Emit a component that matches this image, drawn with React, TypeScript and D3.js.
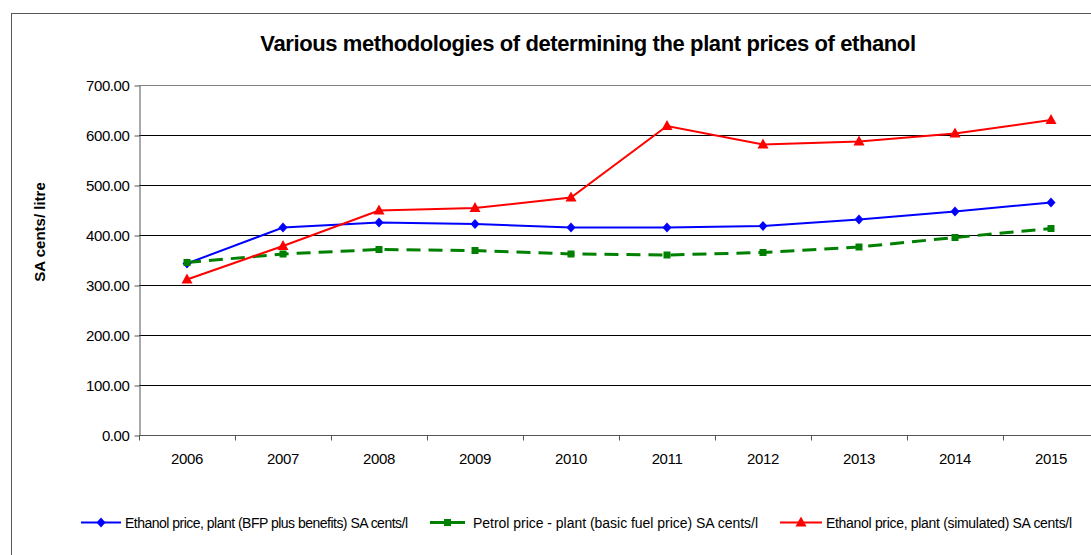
import { useEffect, useRef } from "react";
import * as d3 from "d3";

const YEARS = ["2006", "2007", "2008", "2009", "2010", "2011", "2012", "2013", "2014", "2015"];
const ETHANOL_BFP = [343, 415, 425, 422, 415, 415, 418, 431, 447, 465];
const PETROL_BFP = [345, 362, 371, 369, 362, 360, 365, 376, 395, 413];
const ETHANOL_SIM = [311, 378, 449, 454, 475, 618, 581, 587, 603, 630];
const Y_TICKS = [0, 100, 200, 300, 400, 500, 600, 700];

const SERIES = [
  { name: "Ethanol price, plant (BFP plus benefits) SA cents/l", values: ETHANOL_BFP, color: "#0000ff", marker: "diamond", dash: null, width: 2 },
  { name: "Petrol price - plant (basic fuel price) SA cents/l", values: PETROL_BFP, color: "#008000", marker: "square", dash: "14,8", width: 3 },
  { name: "Ethanol price, plant (simulated) SA cents/l", values: ETHANOL_SIM, color: "#ff0000", marker: "triangle", dash: null, width: 2 },
];

const FONT = "Arial, 'Liberation Sans', sans-serif";

function markerPath(kind: string): string {
  if (kind === "diamond") return "M0,-5L4.5,0L0,5L-4.5,0Z";
  if (kind === "square") return "M-3.5,-3.5H3.5V3.5H-3.5Z";
  return "M0,-6L5.5,4L-5.5,4Z";
}

export default function App() {
  const svgRef = useRef<SVGSVGElement>(null);

  useEffect(() => {
    if (!svgRef.current) return;
    const svg = d3.select(svgRef.current);
    svg.selectAll("*").remove();

    const left = 139, right = 1099, top = 85, bottom = 435;

    // outer chart border
    svg.append("rect")
      .attr("x", 11.5).attr("y", 13.5)
      .attr("width", 1200).attr("height", 600)
      .attr("fill", "#fff").attr("stroke", "#555").attr("stroke-width", 1);

    const x = d3.scaleBand().domain(YEARS).range([left, right]);
    const y = d3.scaleLinear().domain([0, 700]).range([bottom, top]);

    // gridlines
    svg.append("g")
      .selectAll("line")
      .data(Y_TICKS)
      .join("line")
      .attr("x1", left).attr("x2", right + 10)
      .attr("y1", (d) => Math.round(y(d)) + 0.5).attr("y2", (d) => Math.round(y(d)) + 0.5)
      .attr("stroke", (d) => (d === 700 ? "#808080" : "#000"))
      .attr("stroke-width", 1);

    // y axis
    const yAxis = svg.append("g")
      .attr("transform", `translate(${left + 0.5},0.5)`)
      .call(d3.axisLeft(y).tickValues(Y_TICKS).tickSize(5).tickSizeOuter(0).tickPadding(5).tickFormat((d) => (+d).toFixed(2)));
    yAxis.select(".domain").attr("stroke", "#555");
    yAxis.selectAll(".tick line").attr("stroke", "#555");
    yAxis.selectAll("text").attr("fill", "#000").attr("font-size", "15px").attr("font-family", FONT).attr("letter-spacing", "-0.4px");

    // x axis
    const xAxisG = svg.append("g").attr("transform", `translate(0,${bottom + 0.5})`);
    xAxisG.append("line").attr("x1", left).attr("x2", right + 10).attr("stroke", "#555");
    xAxisG.selectAll("line.tk")
      .data(YEARS)
      .join("line")
      .attr("class", "tk")
      .attr("x1", (d) => Math.round(x(d)!) + 0.5).attr("x2", (d) => Math.round(x(d)!) + 0.5)
      .attr("y1", 0).attr("y2", 5)
      .attr("stroke", "#555");
    xAxisG.selectAll("text")
      .data(YEARS)
      .join("text")
      .attr("x", (d) => x(d)! + x.bandwidth() / 2)
      .attr("y", 28)
      .attr("text-anchor", "middle")
      .attr("font-size", "15px").attr("font-family", FONT).attr("letter-spacing", "-0.4px")
      .text((d) => d);

    // lines + markers
    const line = d3.line<number>()
      .x((_, i) => x(YEARS[i])! + x.bandwidth() / 2)
      .y((d) => y(d));

    SERIES.forEach((s) => {
      svg.append("path")
        .datum(s.values)
        .attr("d", line)
        .attr("fill", "none")
        .attr("stroke", s.color)
        .attr("stroke-width", s.width)
        .attr("stroke-dasharray", s.dash);
    });
    SERIES.forEach((s) => {
      svg.append("g")
        .selectAll("path")
        .data(s.values)
        .join("path")
        .attr("transform", (d, i) => `translate(${x(YEARS[i])! + x.bandwidth() / 2},${y(d)})`)
        .attr("d", markerPath(s.marker))
        .attr("fill", s.color);
    });

    // title
    svg.append("text")
      .attr("x", 588).attr("y", 51)
      .attr("text-anchor", "middle")
      .attr("font-size", "22px").attr("font-weight", "bold").attr("font-family", FONT)
      .attr("letter-spacing", "-0.4px")
      .text("Various methodologies of determining the plant prices of ethanol");

    // y label
    svg.append("text")
      .attr("transform", `translate(45,232) rotate(-90)`)
      .attr("text-anchor", "middle")
      .attr("font-size", "15px").attr("font-weight", "bold").attr("font-family", FONT)
      .text("SA cents/ litre");

    // legend
    const legendX = [81, 430, 780];
    const legendLen = [40, 35, 42];
    const legendTextW = [283, 285, 246];
    SERIES.forEach((s, i) => {
      const g = svg.append("g").attr("transform", `translate(${legendX[i]},522.5)`);
      g.append("line").attr("x1", 0).attr("x2", legendLen[i])
        .attr("stroke", s.color).attr("stroke-width", s.width);
      g.append("path").attr("transform", `translate(${legendLen[i] / 2},0)`).attr("d", markerPath(s.marker)).attr("fill", s.color);
      g.append("text")
        .attr("x", legendLen[i] + (i === 1 ? 8 : 4)).attr("y", 5)
        .attr("font-size", "14px").attr("font-family", FONT)
        .attr("textLength", legendTextW[i])
        .attr("lengthAdjust", "spacing")
        .text(s.name);
    });
  }, []);

  return (
    <div style={{ position: "absolute", left: 0, top: 0, width: 1091, height: 555, overflow: "hidden", background: "#fff" }}>
      <svg ref={svgRef} width={1091} height={555} style={{ display: "block" }} />
    </div>
  );
}
